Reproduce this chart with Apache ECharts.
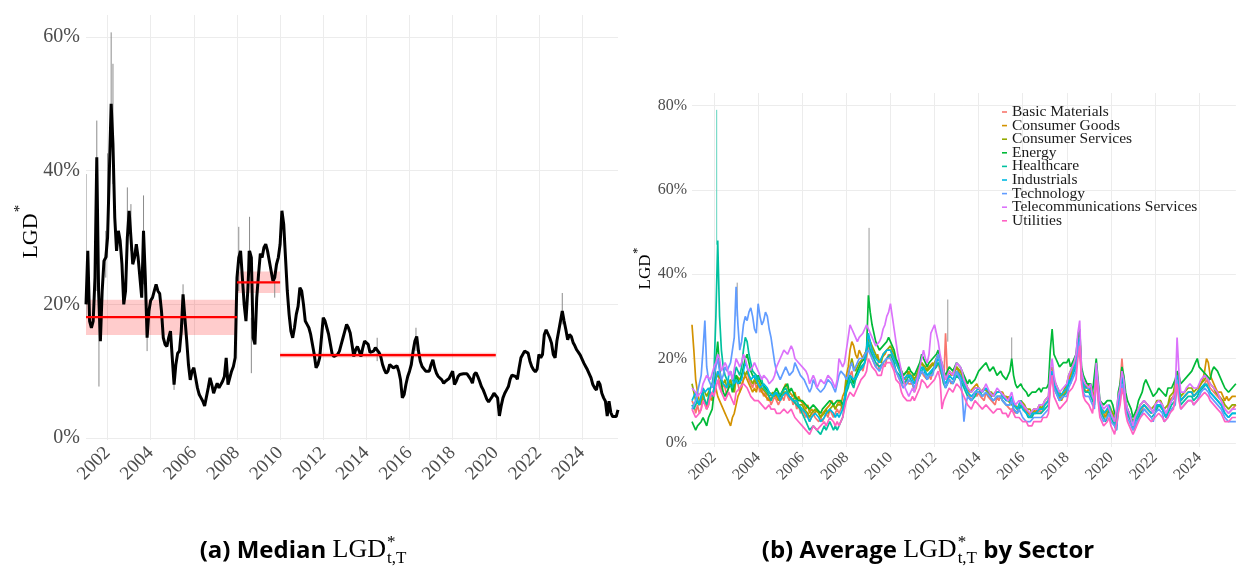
<!DOCTYPE html>
<html>
<head>
<meta charset="utf-8">
<script src="https://cdn.jsdelivr.net/npm/echarts@6/dist/echarts.min.js"></script>
<style>
  html, body { margin: 0; padding: 0; background: #ffffff; }
  #main { width: 1238px; height: 571px; }
</style>
</head>
<body>
<div id="main"></div>
<script>
// ---------- Panel (a): median LGD*, monthly from January 2001 (percent) ----------
const medianStart = 2001;
const medianLGD = [
  20, 28, 17.5, 16.5, 17.5, 24, 42, 22, 14.5, 22, 26.5, 27,
  30, 40, 50, 44, 33, 28, 31, 29.5, 26, 20, 22, 30,
  34, 30, 26, 27, 29, 27, 24, 21, 31, 24, 15, 19,
  20.6, 21, 22, 23, 22, 21.6, 19, 15, 14, 13.7, 15, 16,
  12, 8, 11, 12.7, 13, 16, 21.5, 18, 14.7, 11, 8.7, 10,
  10.5, 9, 7.5, 6.5, 6, 5.5, 4.8, 5, 7.5, 9, 8, 6.7,
  7.5, 8.2, 7.5, 7.7, 8.5, 9.2, 12, 8, 9, 10, 10.7, 12,
  24, 27, 28, 24, 20, 17.5, 22, 28, 27, 15, 14, 21,
  24.5, 27.6, 27, 28.5, 29, 28, 26.5, 25, 23.5, 24, 26, 27,
  29, 34, 32, 27, 22, 18.5, 16, 15, 16.5, 18.5, 19.7, 22.5,
  22, 20, 17.5, 17, 16.5, 15.5, 14, 12.5, 10.5, 11, 12, 15,
  18, 17.5, 16.5, 15.5, 14, 12.5, 12.2, 12.2, 12.5, 13, 14, 15,
  16, 17, 16.5, 15.7, 14, 12.2, 13.2, 13.7, 13, 12.2, 13.5, 14.5,
  14.7, 14, 12.8, 13, 13, 13.5, 13.5, 12.8, 12.2, 11, 10.2, 9.7,
  10, 11, 11.2, 10.5, 10.6, 10.8, 10, 8.7, 6, 6.5, 8, 9.2,
  10, 11, 13, 14.5, 15.2, 13, 11.5, 10.7, 10.5, 10, 9.9, 10,
  11, 11.7, 10.5, 9.7, 9.2, 9, 8.7, 8.2, 8.5, 8.7, 8.9, 8.8,
  10, 8, 8.5, 9.2, 9.5, 9.7, 9.6, 9.4, 9.6, 9.7, 8.8, 8.2,
  9.5, 9.8, 9.2, 8.5, 7.7, 7.2, 6.5, 5.8, 5.4, 5.8, 6.2, 6.7,
  6.5, 6.0, 3.3, 4.8, 6.0, 6.7, 7.2, 7.7, 8.8, 9.4, 9.6, 9.2,
  8.8, 10.5, 12.0, 12.5, 13.0, 12.8, 12.7, 11.5, 10.7, 10.2, 9.9, 10.3,
  12.5, 12.0, 12.5, 15.5, 16.2, 16.0, 15.0, 14.2, 12.5, 12.0, 14.5, 16.0,
  17.5, 19.0, 17.5, 16.2, 14.7, 15.5, 15.2, 14.3, 13.8, 13.2, 12.8, 12.4,
  11.8, 11.2, 10.7, 10.2, 10, 9, 8, 7.5, 7.2, 8.5, 8, 6.7,
  6.0, 5.5, 3.3, 5.5, 3.8, 3.2, 3.0, 3.2, 4.2
];
// Short-lived extremes around the median: [year, low %, high %]
const medianRanges = [
  [2001.0, 18, 39.5], [2001.5, 22, 47.5], [2001.6, 7.7, 22], [2001.917, 24, 31],
  [2002.0, 27, 42.6], [2002.167, 45, 60.7], [2002.25, 38, 56], [2002.917, 27, 37.5],
  [2003.083, 28, 35], [2003.667, 23, 36.3], [2003.833, 13, 17], [2005.083, 7.2, 11],
  [2005.5, 17, 23], [2008.083, 22, 31.6], [2008.5, 22, 28], [2008.583, 25, 33.1],
  [2008.667, 9.7, 18], [2009.75, 21, 25], [2014.5, 11.5, 15], [2016.3, 13, 16.5],
  [2023.083, 17, 21.7]
];
// Regime means with their confidence bands: [from, to, mean, low, high]
const regimeMeans = [
  [2001, 2008, 18.1, 15.4, 20.7],
  [2008, 2010, 23.3, 21.7, 24.9],
  [2010, 2020, 12.4, 12.05, 12.75]
];
const medianPctTicks = [0, 20, 40, 60];
const yearTicks = [2002, 2004, 2006, 2008, 2010, 2012, 2014, 2016, 2018, 2020, 2022, 2024];

// ---------- Panel (b): average LGD* by sector, monthly from January 2001 (percent) ----------
const sectorStart = 2001;
const sectorNames = [
  'Basic Materials', 'Consumer Goods', 'Consumer Services', 'Energy', 'Healthcare',
  'Industrials', 'Technology', 'Telecommunications Services', 'Utilities'
];
const basicMaterials = [
  10, 9, 7, 9, 7, 8, 11, 10, 8, 10, 12, 11,
  13, 15, 17, 14, 12, 14, 13, 11, 14, 15, 13, 12,
  15, 14, 12, 14, 15, 16, 17, 15, 14, 13, 15, 13,
  14, 12, 13, 11, 12, 10, 11, 9, 10, 11, 10, 9,
  10, 11, 10, 12, 11, 10, 11, 9, 10, 8, 9, 7,
  8, 7, 6, 7, 5, 6, 7, 6, 6, 5, 6, 5,
  6, 7, 6, 8, 7, 6, 7, 8, 7, 8, 9, 9,
  12, 14, 16, 17, 14, 15, 16, 17, 18, 17, 19, 20,
  23, 22, 20, 20, 18, 19, 17, 18, 19, 18, 20, 21,
  21, 19, 19, 17, 17, 15, 15, 13, 14, 15, 14, 14,
  14, 12, 13, 15, 16, 17, 16, 16, 15, 16, 15, 17,
  17, 18, 19, 17, 16, 14, 26, 16, 15, 14, 14, 15,
  17, 16, 16, 14, 14, 13, 12, 12, 10, 11, 12, 11,
  12, 11, 11, 10, 12, 11, 11, 10, 10, 9, 11, 10,
  11, 10, 10, 9, 9, 8, 8, 8, 7, 7, 8, 8,
  9, 8, 8, 7, 7, 6, 8, 8, 7, 8, 7, 8,
  9, 9, 10, 15, 16, 13, 13, 12, 11, 10, 11, 11,
  13, 15, 16, 17, 18, 19, 23, 26, 16, 14, 13, 13,
  14, 13, 11, 10, 16, 13, 8, 7, 6, 6, 7, 8,
  7, 7, 5, 4, 10, 14, 20, 14, 9, 7, 6, 5,
  4, 3, 5, 6, 7, 8, 9, 9, 8, 8, 7, 7,
  8, 8, 9, 9, 8, 7, 6, 8, 10, 10, 11, 11,
  16, 13, 10, 10, 11, 11, 12, 12, 12, 11, 11, 12,
  12, 13, 13, 14, 15, 14, 13, 13, 12, 12, 11, 11,
  10, 9, 8, 8, 7, 7, 8, 8, 9
];
const consumerGoods = [
  28, 22, 15, 12, 10, 9, 11, 10, 8, 9, 11, 10,
  12, 13, 11, 10, 9, 8, 7, 6, 5, 4, 6, 7,
  9, 11, 12, 13, 15, 16, 15, 14, 13, 12, 13, 12,
  14, 13, 12, 12, 11, 11, 10, 10, 11, 12, 11, 10,
  11, 12, 13, 14, 13, 12, 12, 11, 12, 10, 11, 10,
  10, 9, 8, 9, 7, 8, 8, 7, 8, 7, 6, 7,
  7, 8, 8, 9, 10, 9, 8, 9, 10, 9, 11, 12,
  16, 18, 22, 24, 23, 21, 20, 22, 21, 20, 21, 22,
  25, 24, 22, 21, 20, 21, 19, 20, 20, 21, 22, 22,
  22, 21, 20, 19, 18, 17, 16, 16, 15, 16, 17, 16,
  16, 15, 14, 17, 18, 19, 19, 17, 17, 18, 18, 19,
  18, 20, 21, 19, 17, 16, 15, 15, 17, 16, 16, 17,
  18, 17, 16, 16, 15, 14, 13, 12, 12, 13, 13, 14,
  13, 12, 12, 13, 13, 12, 12, 11, 11, 12, 12, 12,
  12, 12, 11, 10, 11, 10, 10, 9, 9, 8, 9, 10,
  9, 9, 8, 7, 7, 7, 8, 7, 8, 8, 8, 8,
  9, 9, 10, 15, 16, 14, 12, 12, 11, 10, 11, 11,
  13, 15, 15, 17, 18, 19, 22, 24, 15, 13, 13, 12,
  13, 13, 11, 10, 16, 12, 8, 8, 7, 6, 7, 8,
  8, 7, 5, 4, 9, 12, 16, 14, 9, 7, 6, 6,
  5, 5, 6, 7, 8, 8, 9, 9, 8, 8, 7, 7,
  8, 9, 9, 9, 8, 7, 6, 8, 10, 10, 11, 12,
  16, 13, 10, 10, 11, 11, 12, 12, 12, 11, 11, 12,
  13, 14, 15, 17, 20, 19, 16, 15, 14, 13, 12, 12,
  12, 11, 10, 11, 10, 10, 11, 11, 11
];
const consumerServices = [
  14, 12, 10, 10, 9, 10, 13, 12, 11, 12, 13, 13,
  15, 15, 16, 16, 15, 14, 15, 13, 14, 15, 13, 12,
  16, 16, 15, 16, 17, 16, 17, 16, 15, 14, 15, 14,
  15, 15, 13, 13, 12, 12, 11, 11, 12, 11, 12, 11,
  10, 11, 12, 12, 12, 11, 11, 10, 11, 10, 9, 9,
  9, 8, 8, 7, 6, 7, 7, 8, 8, 7, 6, 6,
  7, 8, 7, 8, 8, 9, 8, 9, 9, 9, 8, 10,
  15, 16, 18, 20, 18, 17, 18, 19, 19, 20, 21, 22,
  25, 24, 23, 22, 21, 20, 20, 19, 21, 21, 22, 22,
  23, 22, 21, 19, 19, 18, 17, 16, 16, 17, 16, 16,
  16, 15, 15, 17, 18, 19, 19, 18, 17, 17, 18, 18,
  19, 20, 21, 19, 18, 16, 15, 15, 17, 17, 16, 16,
  18, 18, 17, 16, 15, 14, 13, 13, 12, 12, 13, 13,
  13, 13, 12, 13, 13, 12, 12, 12, 11, 11, 12, 12,
  12, 11, 11, 11, 10, 10, 9, 9, 9, 8, 9, 10,
  10, 9, 8, 8, 8, 7, 8, 8, 8, 9, 8, 9,
  10, 10, 11, 17, 18, 15, 14, 13, 12, 11, 12, 12,
  14, 16, 16, 18, 19, 20, 24, 26, 16, 14, 14, 13,
  14, 14, 12, 11, 18, 14, 9, 8, 8, 7, 8, 9,
  8, 8, 6, 5, 10, 13, 17, 15, 10, 8, 7, 7,
  5, 6, 7, 8, 9, 9, 10, 10, 9, 9, 8, 8,
  9, 10, 10, 10, 9, 8, 8, 9, 11, 11, 12, 12,
  17, 14, 11, 11, 12, 12, 13, 13, 13, 12, 12, 13,
  13, 14, 14, 15, 16, 15, 14, 14, 13, 12, 12, 11,
  11, 10, 9, 9, 8, 8, 9, 9, 9
];
const energy = [
  5, 4, 3, 4, 4, 5, 6, 5, 4, 6, 7, 8,
  12, 20, 24, 18, 14, 12, 11, 12, 13, 14, 12, 12,
  16, 15, 14, 16, 18, 20, 21, 19, 17, 16, 16, 15,
  16, 15, 14, 14, 13, 13, 12, 12, 11, 12, 13, 12,
  11, 12, 13, 13, 14, 12, 13, 12, 11, 11, 10, 10,
  10, 10, 9, 9, 8, 8, 9, 9, 8, 8, 7, 8,
  8, 9, 9, 10, 10, 9, 9, 10, 10, 10, 9, 10,
  13, 15, 16, 15, 14, 16, 17, 18, 19, 19, 20, 22,
  35, 31, 28, 26, 24, 23, 22, 22, 23, 23, 24, 25,
  24, 23, 22, 20, 20, 18, 17, 16, 16, 17, 18, 17,
  17, 16, 16, 18, 19, 21, 21, 19, 18, 19, 19, 20,
  20, 21, 22, 20, 19, 17, 16, 17, 18, 18, 17, 17,
  19, 19, 18, 17, 16, 16, 14, 15, 14, 14, 15, 16,
  17, 17, 18, 18, 19, 19, 17, 17, 18, 17, 16, 16,
  17, 16, 16, 15, 15, 17, 20, 16, 14, 13, 13, 14,
  13, 13, 12, 11, 11, 12, 12, 12, 12, 13, 12, 13,
  13, 13, 14, 22, 27, 21, 20, 19, 18, 18, 19, 19,
  19, 20, 18, 19, 20, 21, 25, 27, 18, 16, 15, 14,
  14, 14, 12, 12, 20, 15, 10, 10, 9, 9, 10, 10,
  10, 9, 7, 6, 12, 14, 18, 16, 12, 10, 9, 8,
  6, 7, 8, 10, 11, 12, 14, 15, 14, 13, 12, 11,
  11, 12, 13, 13, 12, 12, 11, 13, 13, 13, 14, 15,
  17, 16, 14, 14, 15, 15, 16, 16, 17, 18, 19, 20,
  18, 18, 17, 17, 16, 16, 15, 17, 18, 18, 17, 16,
  15, 14, 13, 13, 12, 12, 13, 13, 14
];
const healthcare = [
  9, 8, 8, 10, 9, 11, 12, 10, 9, 11, 13, 14,
  17, 30, 48, 30, 22, 18, 16, 15, 14, 14, 13, 13,
  18, 17, 16, 18, 22, 25, 24, 21, 19, 17, 17, 16,
  15, 16, 15, 13, 13, 12, 12, 10, 11, 12, 12, 11,
  11, 12, 12, 13, 12, 11, 11, 10, 10, 9, 9, 8,
  7, 6, 5, 4, 3, 3, 4, 4, 3, 3, 2, 2,
  4, 3, 4, 5, 4, 3, 4, 3, 3, 5, 6, 6,
  12, 13, 15, 14, 13, 15, 16, 17, 18, 18, 19, 19,
  24, 22, 21, 20, 19, 19, 18, 18, 19, 19, 20, 20,
  21, 20, 19, 17, 17, 16, 15, 14, 14, 15, 16, 15,
  15, 13, 13, 15, 16, 17, 18, 16, 15, 16, 16, 17,
  17, 18, 19, 18, 16, 14, 13, 14, 15, 15, 14, 15,
  16, 16, 15, 14, 13, 12, 11, 11, 10, 10, 11, 12,
  12, 12, 11, 11, 12, 12, 11, 11, 10, 10, 11, 11,
  11, 10, 10, 9, 9, 9, 10, 8, 8, 7, 8, 9,
  8, 8, 7, 6, 6, 6, 7, 7, 7, 7, 7, 7,
  8, 8, 9, 14, 17, 13, 12, 11, 10, 10, 11, 11,
  12, 14, 14, 16, 17, 18, 23, 25, 15, 13, 12, 12,
  12, 12, 10, 9, 17, 12, 8, 7, 6, 5, 6, 8,
  6, 6, 4, 3, 8, 11, 15, 13, 8, 7, 6, 5,
  3, 4, 5, 6, 7, 7, 8, 8, 7, 7, 6, 6,
  7, 8, 9, 9, 8, 7, 6, 7, 8, 9, 9, 10,
  15, 12, 9, 9, 10, 10, 11, 11, 11, 10, 10, 11,
  12, 12, 13, 13, 14, 13, 12, 12, 11, 11, 10, 10,
  9, 8, 7, 7, 6, 6, 7, 7, 7
];
const industrials = [
  10, 11, 12, 10, 9, 11, 13, 12, 12, 13, 12, 11,
  13, 15, 17, 16, 15, 14, 14, 13, 16, 17, 15, 14,
  15, 14, 14, 15, 17, 19, 18, 16, 15, 15, 16, 16,
  14, 13, 13, 14, 14, 13, 12, 12, 11, 11, 12, 12,
  10, 11, 11, 12, 12, 11, 11, 10, 10, 10, 9, 9,
  8, 8, 7, 7, 5, 6, 6, 7, 7, 6, 5, 5,
  6, 7, 7, 8, 8, 7, 6, 7, 6, 7, 8, 8,
  13, 14, 16, 16, 15, 15, 16, 17, 17, 18, 19, 19,
  26, 24, 22, 21, 20, 20, 19, 19, 21, 21, 22, 22,
  22, 21, 20, 19, 18, 17, 16, 15, 15, 16, 16, 16,
  15, 14, 14, 16, 17, 18, 18, 17, 16, 16, 17, 17,
  18, 19, 20, 19, 17, 15, 14, 14, 16, 16, 15, 15,
  17, 17, 16, 15, 14, 13, 12, 12, 11, 11, 12, 12,
  13, 13, 12, 12, 13, 13, 12, 12, 11, 11, 12, 12,
  12, 11, 11, 10, 10, 10, 11, 9, 9, 8, 9, 10,
  8, 8, 7, 7, 6, 7, 7, 7, 7, 8, 8, 8,
  9, 9, 10, 15, 17, 14, 13, 12, 11, 11, 12, 12,
  13, 15, 14, 16, 18, 19, 23, 25, 16, 14, 13, 13,
  13, 13, 11, 10, 18, 13, 9, 8, 7, 7, 8, 9,
  7, 7, 5, 4, 9, 12, 16, 14, 9, 8, 7, 6,
  4, 5, 6, 7, 8, 8, 9, 9, 8, 8, 7, 7,
  8, 9, 9, 9, 8, 7, 6, 8, 9, 10, 10, 11,
  16, 13, 10, 10, 11, 11, 12, 12, 12, 11, 11, 12,
  12, 13, 13, 14, 14, 13, 12, 12, 11, 11, 10, 10,
  9, 8, 7, 7, 6, 6, 7, 7, 7
];
const technology = [
  8, 9, 10, 12, 14, 16, 22, 29, 18, 15, 14, 13,
  16, 18, 20, 17, 15, 16, 18, 17, 17, 19, 22, 25,
  37, 28, 22, 24, 28, 30, 29, 31, 32, 30, 27, 26,
  33, 30, 28, 29, 31, 30, 27, 25, 22, 19, 17, 16,
  15, 16, 17, 18, 18, 16, 16, 17, 19, 18, 17, 16,
  16, 15, 14, 13, 12, 13, 15, 14, 13, 13, 12, 12,
  13, 14, 15, 15, 14, 13, 12, 14, 16, 17, 17, 16,
  15, 16, 18, 19, 17, 17, 19, 20, 20, 20, 21, 21,
  22, 21, 20, 19, 18, 18, 17, 17, 19, 19, 20, 20,
  20, 19, 18, 17, 16, 15, 14, 13, 13, 14, 15, 15,
  14, 13, 13, 15, 16, 17, 17, 16, 15, 16, 16, 16,
  18, 20, 21, 19, 17, 15, 13, 14, 15, 15, 14, 14,
  17, 16, 15, 12, 5, 9, 11, 11, 10, 10, 12, 12,
  12, 12, 11, 11, 12, 12, 11, 11, 10, 10, 11, 11,
  11, 10, 10, 9, 9, 9, 10, 8, 8, 7, 8, 8,
  6, 6, 5, 5, 5, 5, 6, 6, 6, 6, 6, 6,
  7, 7, 8, 14, 16, 13, 12, 11, 10, 10, 11, 11,
  11, 13, 13, 15, 16, 17, 22, 24, 15, 12, 11, 11,
  11, 11, 9, 8, 16, 11, 7, 6, 5, 5, 6, 7,
  5, 5, 4, 3, 8, 10, 14, 12, 8, 6, 5, 5,
  3, 4, 5, 5, 6, 7, 8, 8, 7, 7, 6, 5,
  7, 7, 8, 8, 7, 5, 5, 6, 7, 8, 8, 9,
  15, 11, 8, 8, 9, 9, 10, 10, 10, 9, 9, 10,
  11, 12, 12, 13, 13, 12, 11, 11, 10, 10, 9, 9,
  8, 7, 6, 6, 5, 5, 5, 5, 5
];
const telecom = [
  13, 13, 12, 11, 11, 12, 14, 15, 16, 16, 15, 15,
  18, 19, 21, 20, 17, 18, 19, 18, 16, 17, 15, 15,
  20, 19, 18, 19, 21, 20, 18, 17, 17, 18, 19, 18,
  17, 16, 15, 16, 16, 15, 14, 14, 15, 16, 18, 18,
  20, 21, 22, 22, 21, 22, 23, 22, 20, 20, 19, 19,
  18, 18, 17, 16, 14, 15, 16, 15, 13, 14, 15, 15,
  14, 15, 16, 16, 15, 14, 13, 15, 20, 19, 18, 19,
  22, 25, 28, 27, 26, 25, 24, 25, 25, 26, 27, 28,
  28, 26, 25, 24, 23, 23, 24, 25, 27, 28, 30, 31,
  33, 30, 27, 24, 21, 19, 17, 15, 13, 12, 11, 11,
  13, 12, 12, 16, 18, 20, 22, 20, 19, 21, 26, 27,
  28, 26, 24, 21, 19, 17, 15, 16, 17, 17, 16, 16,
  19, 19, 18, 17, 15, 14, 13, 13, 12, 12, 13, 13,
  13, 13, 12, 13, 14, 13, 12, 12, 11, 11, 13, 13,
  12, 12, 11, 11, 10, 10, 12, 10, 9, 9, 10, 10,
  9, 9, 8, 8, 7, 7, 8, 8, 8, 9, 9, 9,
  10, 10, 11, 17, 20, 16, 14, 13, 12, 12, 13, 13,
  14, 16, 16, 18, 19, 21, 26, 29, 17, 15, 14, 14,
  13, 14, 11, 10, 19, 14, 10, 9, 8, 8, 9, 9,
  7, 7, 5, 5, 11, 13, 17, 15, 10, 8, 7, 7,
  4, 6, 7, 8, 9, 9, 10, 10, 9, 9, 8, 7,
  9, 9, 10, 10, 9, 8, 7, 8, 9, 10, 11, 12,
  25, 17, 12, 12, 12, 13, 13, 14, 14, 13, 13, 13,
  14, 15, 15, 16, 16, 15, 14, 14, 13, 13, 12, 12,
  10, 9, 8, 8, 7, 7, 8, 8, 8
];
const utilities = [
  8, 7, 6, 6, 7, 8, 10, 9, 8, 9, 11, 12,
  11, 13, 15, 13, 12, 11, 10, 10, 12, 12, 10, 9,
  12, 12, 13, 13, 14, 14, 13, 12, 11, 11, 10, 10,
  10, 10, 9, 9, 8, 8, 9, 8, 8, 8, 7, 7,
  7, 7, 8, 8, 7, 7, 8, 7, 6, 6, 5, 5,
  4, 4, 3, 3, 2, 3, 4, 4, 3, 3, 4, 4,
  5, 4, 4, 6, 6, 5, 4, 5, 4, 5, 6, 6,
  10, 11, 12, 12, 11, 12, 13, 14, 15, 15, 16, 17,
  20, 19, 18, 18, 17, 16, 16, 16, 18, 18, 19, 19,
  19, 18, 17, 15, 15, 14, 12, 11, 11, 10, 10, 10,
  11, 10, 10, 12, 13, 15, 15, 14, 13, 13, 14, 14,
  15, 16, 17, 15, 8, 10, 11, 11, 13, 13, 12, 12,
  14, 14, 13, 12, 11, 10, 9, 9, 8, 8, 10, 10,
  9, 9, 8, 8, 9, 9, 8, 8, 7, 7, 8, 8,
  8, 7, 7, 7, 6, 7, 8, 7, 6, 6, 6, 6,
  5, 5, 5, 4, 4, 4, 5, 5, 5, 5, 5, 6,
  6, 6, 7, 13, 16, 11, 10, 9, 8, 8, 9, 9,
  10, 12, 12, 13, 14, 15, 20, 23, 14, 11, 10, 10,
  9, 9, 7, 7, 15, 10, 6, 5, 4, 4, 5, 6,
  4, 4, 2, 2, 7, 9, 13, 11, 7, 5, 4, 4,
  2, 2, 4, 5, 6, 6, 7, 7, 6, 6, 5, 5,
  6, 6, 7, 7, 6, 5, 5, 6, 7, 7, 8, 8,
  14, 10, 8, 8, 9, 9, 10, 10, 10, 9, 9, 10,
  10, 11, 11, 12, 12, 11, 10, 10, 9, 9, 8, 8,
  7, 6, 5, 5, 5, 5, 6, 6, 6
];
const sectorSeries = [basicMaterials, consumerGoods, consumerServices, energy, healthcare,
  industrials, technology, telecom, utilities];
// Short-lived sector extremes: [year, low %, high %]
const healthcareSpikes = [[2002.12, 47, 79]];
const pooledSpikes = [[2009.03, 34, 51], [2012.6, 24, 34], [2015.5, 19, 25], [2003.05, 30, 38]];
const sectorPctTicks = [0, 20, 40, 60, 80];

// ---------- styling ----------
const SERIF = '"Liberation Serif", "Times New Roman", serif';
const CAPTION = '"Open Sans", "Noto Sans", sans-serif';
const sectorColors = ['#F8766D', '#D39200', '#93AA00', '#00BA38', '#00C19F',
  '#00B9E3', '#619CFF', '#DB72FB', '#FF61C3'];
const gridColor = '#ECECEC';
const tickColor = '#4D4D4D';

const medianPoints = medianLGD.map((v, i) => [medianStart + i / 12, v]);
const sectorPoints = sectorSeries.map(s => s.map((v, i) => [sectorStart + i / 12, v]));
const medianXMax = medianPoints[medianPoints.length - 1][0];
const sectorXMax = sectorPoints[0][sectorPoints[0].length - 1][0];

function isTick(v, ticks) {
  const r = Math.round(v);
  return Math.abs(v - r) < 1e-6 && ticks.indexOf(r) >= 0;
}
function xAxisFor(gridIndex, minYear, maxYear, fontSize, margin) {
  return {
    type: 'value', gridIndex, min: minYear, max: maxYear,
    minInterval: 2, maxInterval: 2,
    axisLine: { show: false }, axisTick: { show: false },
    splitLine: { show: true, showMinLine: false, showMaxLine: false, lineStyle: { color: gridColor, width: 1 } },
    axisLabel: {
      rotate: 45, margin, fontFamily: SERIF, fontSize, color: tickColor,
      formatter: v => isTick(v, yearTicks) ? String(Math.round(v)) : ''
    }
  };
}
function yAxisFor(gridIndex, lo, hi, ticks, fontSize, margin) {
  return {
    type: 'value', gridIndex, min: lo, max: hi,
    minInterval: 20, maxInterval: 20,
    axisLine: { show: false }, axisTick: { show: false },
    splitLine: { show: true, showMinLine: false, showMaxLine: false, lineStyle: { color: gridColor, width: 1 } },
    axisLabel: {
      margin, fontFamily: SERIF, fontSize, color: tickColor,
      formatter: v => isTick(v, ticks) ? Math.round(v) + '%' : ''
    }
  };
}

function whiskerRenderer(params, api) {
  const a = api.coord([api.value(0), api.value(1)]);
  const b = api.coord([api.value(0), api.value(2)]);
  return {
    type: 'line',
    shape: { x1: a[0], y1: a[1], x2: b[0], y2: b[1] },
    style: { stroke: api.visual('color'), lineWidth: 1 }
  };
}
function bandRenderer(params, api) {
  const tl = api.coord([api.value(0), api.value(4)]);
  const br = api.coord([api.value(1), api.value(3)]);
  return {
    type: 'rect',
    shape: { x: tl[0], y: tl[1], width: br[0] - tl[0], height: br[1] - tl[1] },
    style: { fill: 'rgba(255, 0, 0, 0.2)' }
  };
}

// ---------- captions and axis titles ----------
const measureCtx = document.createElement('canvas').getContext('2d');
function textWidth(text, font) { measureCtx.font = font; return measureCtx.measureText(text).width; }

function caption(cx, baseline, pre, post) {
  const bs = 24, ms = 26, ss = 17;
  const boldFont = `bold ${bs}px ${CAPTION}`;
  const mathFont = `${ms}px ${SERIF}`;
  const smallFont = `${ss}px ${SERIF}`;
  const wPre = textWidth(pre, boldFont);
  const wMath = textWidth('LGD', mathFont);
  const wSmall = Math.max(textWidth('*', smallFont), textWidth('t,T', smallFont));
  const wPost = post ? textWidth(post, boldFont) : 0;
  let x = cx - (wPre + wMath + 1 + wSmall + wPost) / 2;
  const els = [];
  const put = (text, size, family, weight, px, base) => els.push({
    type: 'text', x: px, y: base - 0.3 * size, silent: true,
    style: { text, fontSize: size, fontFamily: family, fontWeight: weight, fill: '#000000',
             align: 'left', verticalAlign: 'middle' }
  });
  put(pre, bs, CAPTION, 'bold', x, baseline); x += wPre;
  put('LGD', ms, SERIF, 'normal', x, baseline); x += wMath + 1;
  put('*', ss, SERIF, 'normal', x, baseline - 10);
  put('t,T', ss, SERIF, 'normal', x, baseline + 6); x += wSmall;
  if (post) put(post, bs, CAPTION, 'bold', x, baseline);
  return els;
}
function axisTitle(cx, cy, size, starSize) {
  return [
    { type: 'text', x: cx, y: cy, rotation: Math.PI / 2, silent: true,
      style: { text: 'LGD', fontSize: size, fontFamily: SERIF, fill: '#000000', align: 'center', verticalAlign: 'middle' } },
    { type: 'text', x: cx - size * 0.48, y: cy - size * 1.25, rotation: Math.PI / 2, silent: true,
      style: { text: '*', fontSize: starSize, fontFamily: SERIF, fill: '#000000', align: 'center', verticalAlign: 'middle' } }
  ];
}

// ---------- chart ----------
const chart = echarts.init(document.getElementById('main'), null, { renderer: 'canvas' });

const series = [];
series.push({
  type: 'custom', name: 'band', xAxisIndex: 0, yAxisIndex: 0, renderItem: bandRenderer,
  encode: { x: [0, 1], y: [2, 3, 4] }, data: regimeMeans, clip: true, silent: true
});
series.push({
  type: 'custom', name: 'range', xAxisIndex: 0, yAxisIndex: 0, renderItem: whiskerRenderer,
  itemStyle: { color: '#8c8c8c' }, encode: { x: 0, y: [1, 2] }, data: medianRanges, clip: true, silent: true
});
series.push({
  type: 'line', name: 'Median', xAxisIndex: 0, yAxisIndex: 0, data: medianPoints,
  showSymbol: false, symbol: 'none', lineStyle: { color: '#000000', width: 3 }, itemStyle: { color: '#000000' },
  silent: true
});
regimeMeans.forEach(r => series.push({
  type: 'line', xAxisIndex: 0, yAxisIndex: 0, data: [[r[0], r[2]], [r[1], r[2]]],
  showSymbol: false, symbol: 'none', lineStyle: { color: '#FF0000', width: 2.2 }, itemStyle: { color: '#FF0000' },
  silent: true
}));
series.push({
  type: 'custom', xAxisIndex: 1, yAxisIndex: 1, renderItem: whiskerRenderer,
  itemStyle: { color: '#9a9a9a' }, encode: { x: 0, y: [1, 2] }, data: pooledSpikes, clip: true, silent: true
});
series.push({
  type: 'custom', xAxisIndex: 1, yAxisIndex: 1, renderItem: whiskerRenderer,
  itemStyle: { color: '#5fd3bd' }, encode: { x: 0, y: [1, 2] }, data: healthcareSpikes, clip: true, silent: true
});
sectorNames.forEach((name, k) => series.push({
  type: 'line', name, xAxisIndex: 1, yAxisIndex: 1, data: sectorPoints[k],
  showSymbol: false, symbol: 'none', lineStyle: { color: sectorColors[k], width: 1.7 },
  itemStyle: { color: sectorColors[k] }, silent: true
}));

chart.setOption({
  animation: false,
  backgroundColor: '#ffffff',
  grid: [
    { left: 86, top: 15, width: 532, height: 425 },
    { left: 692, top: 93, width: 546, height: 354 }
  ],
  xAxis: [
    xAxisFor(0, medianStart, medianXMax, 19, 10),
    xAxisFor(1, sectorStart, sectorXMax, 16, 8)
  ],
  yAxis: [
    yAxisFor(0, -0.3, 63.3, medianPctTicks, 20, 6),
    yAxisFor(1, -1, 83, sectorPctTicks, 16, 5)
  ],
  legend: {
    data: sectorNames, orient: 'vertical', left: 1002, top: 104, padding: 0,
    itemWidth: 5, itemHeight: 1.6, itemGap: -2.4, icon: 'rect', selectedMode: false,
    textStyle: { fontFamily: SERIF, fontSize: 15.5, color: '#1a1a1a', lineHeight: 14 }
  },
  graphic: [
    ...axisTitle(31, 236, 22, 15),
    ...axisTitle(646, 272, 17, 12),
    ...caption(303, 558, '(a) Median ', ''),
    ...caption(928, 558, '(b) Average ', ' by Sector')
  ],
  series
});
</script>
</body>
</html>
